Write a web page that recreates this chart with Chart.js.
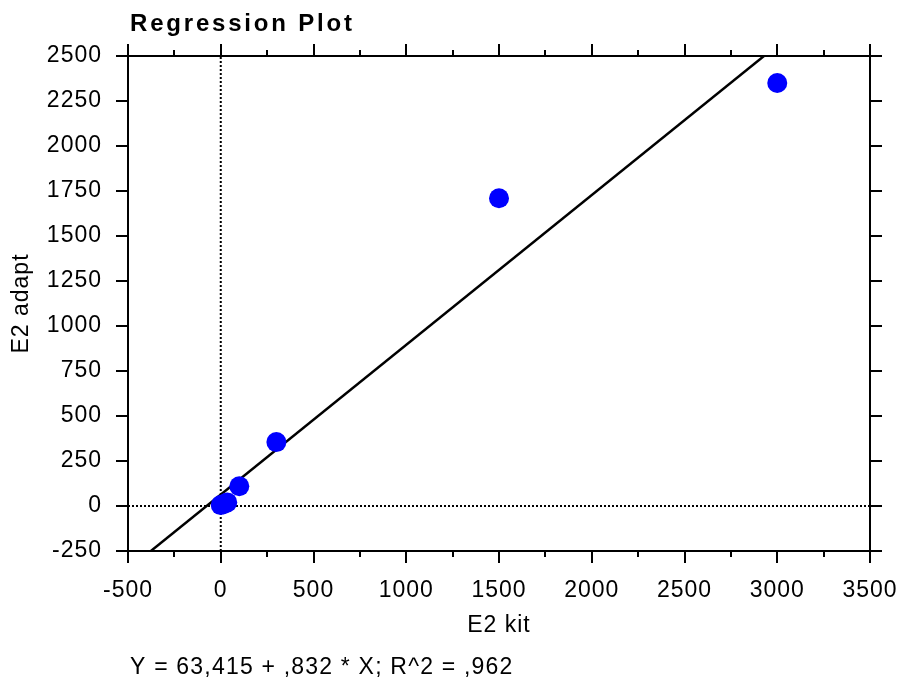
<!DOCTYPE html>
<html>
<head>
<meta charset="utf-8">
<title>Regression Plot</title>
<script src="https://cdn.jsdelivr.net/npm/chart.js@4.4.1/dist/chart.umd.min.js"></script>
<style>
  html, body { margin: 0; padding: 0; background: #fff; }
  #wrap { width: 902px; height: 678px; }
</style>
</head>
<body>
<div id="wrap"><canvas id="regChart" width="902" height="678"></canvas></div>
<script>
// axis ranges
const xMin = -500, xMax = 3500, xStep = 500;
const yMin = -250, yMax = 2500, yStep = 250;

// measured values
const kitValues   = [3000, 1500, 300, 100, 35, 15, 0];
const adaptValues = [2350, 1710, 355, 110, 20, 10, 5];

// fitted line Y = a + b * X
const intercept = 63.415;
const slope = 0.832;
const rSquared = 0.962;

const titleText = 'Regression Plot';
const xTitle = 'E2 kit';
const yTitle = 'E2 adapt';
const equationText = 'Y = 63,415 + ,832 * X; R^2 = ,962';

const FONT = "'Liberation Sans', Arial, sans-serif";

const points = kitValues.map((x, i) => ({ x, y: adaptValues[i] }));
const fitLine = [xMin, xMax].map(x => ({ x, y: intercept + slope * x }));
const zeroH = [{ x: xMin, y: 0 }, { x: xMax, y: 0 }];
const zeroV = [{ x: 0, y: yMin }, { x: 0, y: yMax }];

Chart.defaults.color = '#000';
Chart.defaults.font.family = FONT;
Chart.defaults.font.size = 23;

const majorGrid = {
    display: true,
    drawOnChartArea: false,
    drawTicks: true,
    tickLength: 12,
    color: '#000',
    lineWidth: 2
};
const frame = { display: true, color: '#000', width: 2 };

// keep the plot box fixed: no extra side padding for edge labels
function fixHorizontal(h) {
    return s => {
        s.height = h;
        s.paddingLeft = 0;
        s.paddingRight = 0;
    };
}

// minor ticks on the x axes, title and equation text
const extrasPlugin = {
    id: 'extras',
    beforeDraw(chart) {
        chart.ctx.letterSpacing = '1px';
    },
    afterDraw(chart) {
        const ctx = chart.ctx;
        const area = chart.chartArea;
        const xs = chart.scales.x;
        ctx.save();
        ctx.strokeStyle = '#000';
        ctx.lineWidth = 2;
        ctx.beginPath();
        for (let v = xMin + xStep / 2; v < xMax; v += xStep) {
            const px = Math.round(xs.getPixelForValue(v));
            ctx.moveTo(px, area.bottom);
            ctx.lineTo(px, area.bottom + 6);
            ctx.moveTo(px, area.top);
            ctx.lineTo(px, area.top - 6);
        }
        ctx.stroke();

        ctx.fillStyle = '#000';
        ctx.textAlign = 'left';
        ctx.textBaseline = 'alphabetic';
        ctx.letterSpacing = '2.8px';
        ctx.font = 'bold 24px ' + FONT;
        ctx.fillText(titleText, area.left + 2, 31);

        ctx.letterSpacing = '1.2px';
        ctx.font = '23px ' + FONT;
        ctx.fillText(equationText, area.left + 2, 674);
        ctx.restore();
    }
};

new Chart(document.getElementById('regChart'), {
    type: 'scatter',
    data: {
        datasets: [
            {
                label: 'data',
                data: points,
                pointRadius: 10,
                pointHoverRadius: 10,
                pointBackgroundColor: '#0000ff',
                pointBorderWidth: 0,
                order: 0
            },
            {
                label: 'fit',
                data: fitLine,
                showLine: true,
                borderColor: '#000',
                borderWidth: 2.5,
                pointRadius: 0,
                order: 1
            },
            {
                label: 'y0',
                data: zeroH,
                showLine: true,
                borderColor: '#000',
                borderWidth: 2,
                borderDash: [2, 2],
                pointRadius: 0,
                order: 2
            },
            {
                label: 'x0',
                data: zeroV,
                showLine: true,
                borderColor: '#000',
                borderWidth: 2,
                borderDash: [2, 2],
                pointRadius: 0,
                order: 2
            }
        ]
    },
    options: {
        responsive: false,
        animation: false,
        devicePixelRatio: 1,
        layout: { padding: { top: 0, left: 0, right: 0, bottom: 38 } },
        plugins: {
            legend: { display: false },
            tooltip: { enabled: false }
        },
        scales: {
            x: {
                type: 'linear',
                position: 'bottom',
                min: xMin, max: xMax,
                grid: majorGrid,
                border: frame,
                ticks: {
                    stepSize: xStep,
                    autoSkip: false,
                    maxRotation: 0,
                    padding: 14,
                    callback: v => String(v)
                },
                title: { display: true, text: xTitle, padding: { top: 0, bottom: 1 } },
                afterFit: fixHorizontal(89)
            },
            x2: {
                type: 'linear',
                position: 'top',
                min: xMin, max: xMax,
                grid: majorGrid,
                border: frame,
                ticks: { stepSize: xStep, display: false },
                afterFit: fixHorizontal(56)
            },
            y: {
                type: 'linear',
                position: 'left',
                min: yMin, max: yMax,
                grid: majorGrid,
                border: frame,
                ticks: {
                    stepSize: yStep,
                    autoSkip: false,
                    padding: 14,
                    callback: v => String(v)
                },
                title: { display: true, text: yTitle, padding: { top: 8, bottom: 0 } },
                afterFit: s => { s.width = 128; s.paddingTop = 0; s.paddingBottom = 0; }
            },
            y2: {
                type: 'linear',
                position: 'right',
                min: yMin, max: yMax,
                grid: majorGrid,
                border: frame,
                ticks: { stepSize: yStep, display: false },
                afterFit: s => { s.width = 32; s.paddingTop = 0; s.paddingBottom = 0; }
            }
        }
    },
    plugins: [extrasPlugin]
});
</script>
</body>
</html>
